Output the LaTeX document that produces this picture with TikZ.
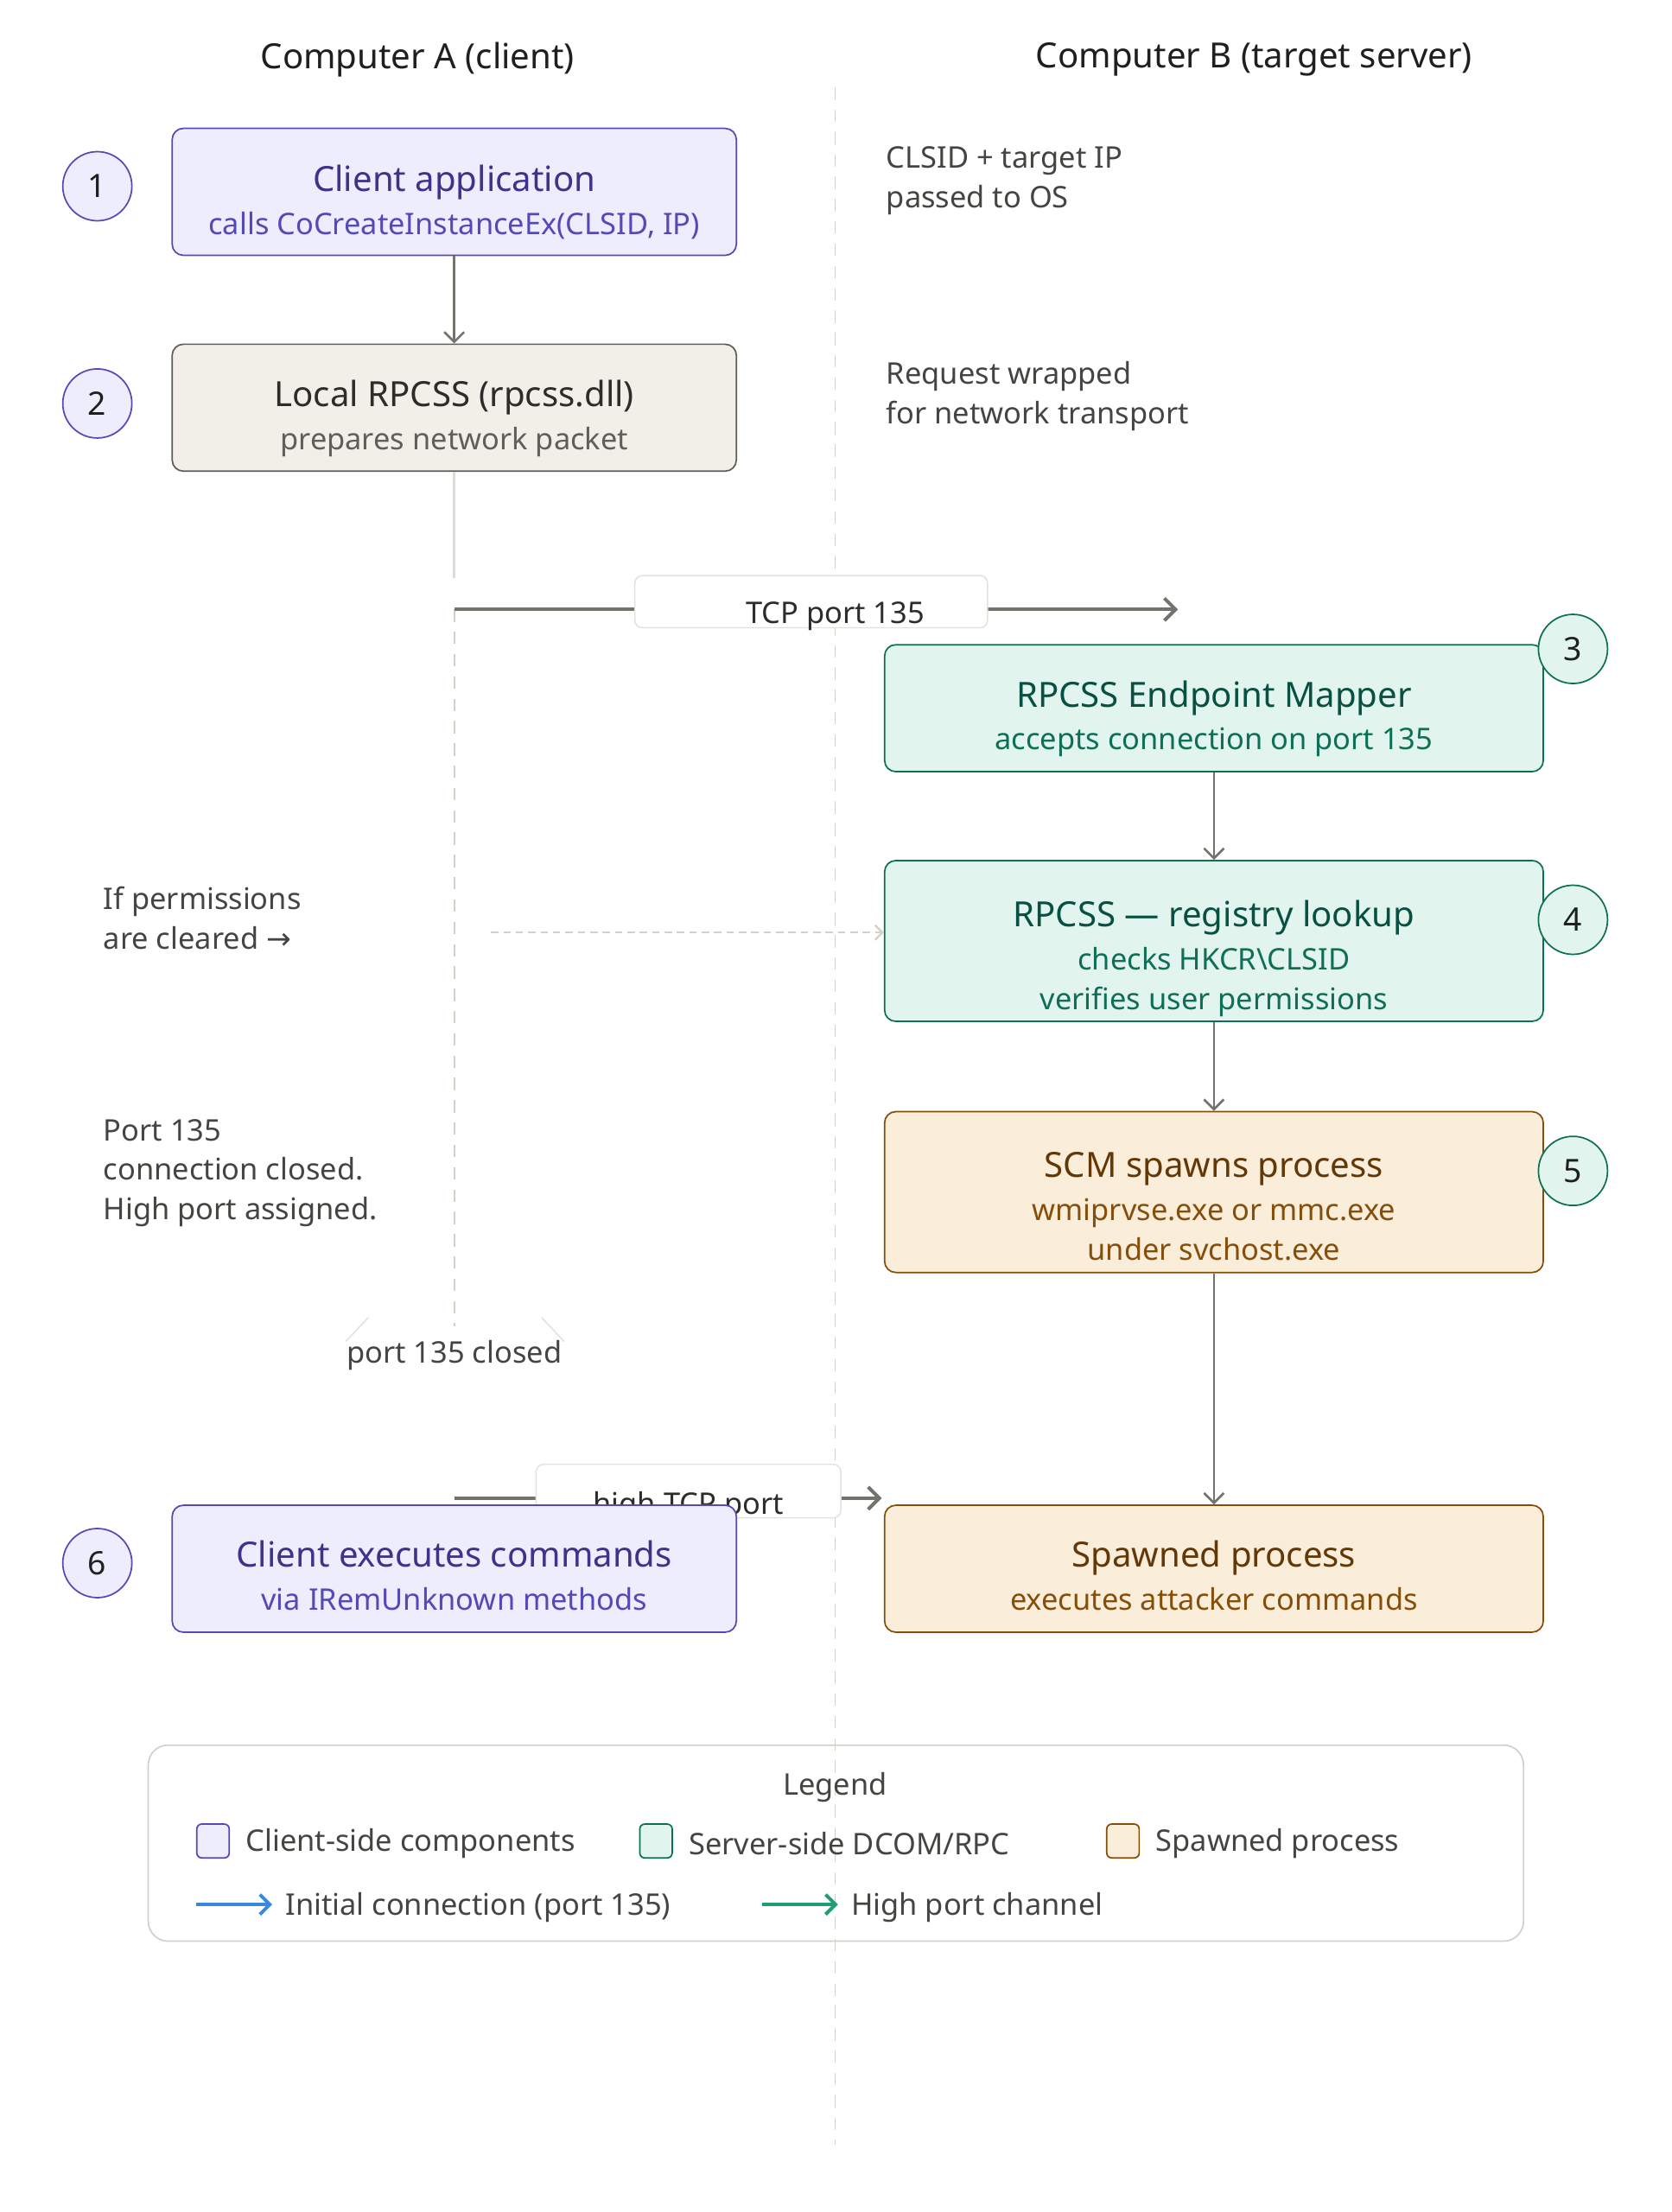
\documentclass[tikz,border=0pt]{standalone}
\usepackage{fontspec}
\setmainfont{Noto Sans}
\newfontfamily\symfont{DejaVu Sans}
\usetikzlibrary{positioning,arrows.meta}
\definecolor{Ink}{HTML}{1F1F1D}
\definecolor{Stone}{HTML}{444441}
\definecolor{Lav}{HTML}{EEEDFE}
\definecolor{Indigo}{HTML}{534AB7}
\definecolor{IndigoDark}{HTML}{3C3489}
\definecolor{Sand}{HTML}{F1EFE8}
\definecolor{SandLine}{HTML}{5F5E5A}
\definecolor{SandDark}{HTML}{2C2C2A}
\definecolor{Mint}{HTML}{E1F5EE}
\definecolor{Teal}{HTML}{0F6E56}
\definecolor{TealDark}{HTML}{085041}
\definecolor{Peach}{HTML}{FAEEDA}
\definecolor{Amber}{HTML}{854F0B}
\definecolor{AmberDark}{HTML}{633806}
\definecolor{Flow}{HTML}{73726C}
\definecolor{Guide}{HTML}{D3D1C7}
\definecolor{TagLine}{HTML}{E2E1DC}
\definecolor{LegBlue}{HTML}{378ADD}
\definecolor{LegGreen}{HTML}{1D9E75}
\newcommand{\boxhead}[2]{{\fontsize{14}{16}\selectfont\color{#1}#2}\\[1.4pt]}

\begin{document}
\begin{tikzpicture}[x=0.02cm,y=-0.02cm,
  every node/.style={font=\fontsize{12}{16}\selectfont,inner sep=0pt},
  box/.style={rounded corners=4.5pt,line width=0.6pt,
    minimum width=8cm,minimum height=1.8cm},
  client/.style={box,fill=Lav,draw=Indigo},
  local/.style={box,fill=Sand,draw=SandLine},
  server/.style={box,fill=Mint,draw=Teal,minimum width=9.34cm},
  spawn/.style={box,fill=Peach,draw=Amber,minimum width=9.34cm},
  boxtext/.style={align=center},
  badgeA/.style={circle,minimum size=0.98cm,fill=Lav,draw=Indigo,line width=0.6pt,
    text=Ink,font=\fontsize{13}{16}\selectfont},
  badgeB/.style={badgeA,fill=Mint,draw=Teal},
  flow/.style={draw=Flow,line width=0.9pt,-{Straight Barb[length=4pt,width=8pt]}},
  wire/.style={draw=Flow,line width=1.4pt,-{Straight Barb[length=4.5pt,width=9pt]}},
  guide/.style={draw=Guide,line width=0.6pt,dash pattern=on 5pt off 4pt},
  note/.style={anchor=west,align=left,text=Stone},
  tag/.style={draw=TagLine,fill=white,rounded corners=3pt,line width=0.5pt},
  swatch/.style={rounded corners=2pt,line width=0.6pt,minimum width=0.46cm,minimum height=0.48cm}]
  \useasboundingbox (0,0) rectangle (1185,1568);
  % lanes
  \node[text=Ink,font=\fontsize{14}{16}\selectfont] (laneA) at (296,42) {Computer A (client)};
  \node[text=Ink,font=\fontsize{14}{16}\selectfont] (laneB) at (889,42) {Computer B (target server)};
  \coordinate (midtop) at (592,62);
  \coordinate (midbot) at (592,1520);
  \draw[guide] (midtop) -- (midbot);

  % legend
  \node[draw=Guide,rounded corners=8pt,line width=0.6pt,minimum width=19.5cm,
    minimum height=2.78cm] (legend) at (592.5,1306.5) {};
  \node[text=Stone] (legtitle) at (592,1267) {Legend};
  \node[swatch,fill=Lav,draw=Indigo] (swA) at (151,1305) {};
  \node[swatch,fill=Mint,draw=Teal] (swB) at (465,1305) {};
  \node[swatch,fill=Peach,draw=Amber] (swC) at (796,1305) {};
  \node[note] (legA) at (174,1307) {Client-side components};
  \node[note] (legB) at (488,1307) {Server-side DCOM/RPC};
  \node[note] (legC) at (819,1307) {Spawned process};
  \coordinate (blueA) at (139,1350);
  \coordinate (blueB) at (193,1350);
  \coordinate (greenA) at (540,1350);
  \coordinate (greenB) at (594,1350);
  \draw[draw=LegBlue,line width=1.4pt,-{Straight Barb[length=4pt,width=8pt]}] (blueA) -- (blueB);
  \draw[draw=LegGreen,line width=1.4pt,-{Straight Barb[length=4pt,width=8pt]}] (greenA) -- (greenB);
  \node[note] (legD) at (202,1352) {Initial connection (port 135)};
  \node[note] (legE) at (603,1352) {High port channel};

  % client lane
  \node[client] (app) at (322,136) {};
  \node[boxtext,text=Indigo] (appT) at (322,143.5)
    {\boxhead{IndigoDark}{Client application}calls CoCreateInstanceEx(CLSID, IP)};
  \node[local] (rpcl) at (322,289) {};
  \node[boxtext,text=SandLine] (rpclT) at (322,296.5)
    {\boxhead{SandDark}{Local RPCSS (rpcss.dll)}prepares network packet};
  \node[badgeA] (n1) at (69,132) {1};
  \node[badgeA] (n2) at (69,286) {2};
  \draw[flow] (app) -- (rpcl);
  \coordinate (stem) at (322,410);
  \coordinate (tcpA) at (322,432);
  \coordinate (tcpB) at (835,432);
  \coordinate (lifeend) at (322,940);
  \draw[draw=Guide!80!black!40,line width=0.9pt] (rpcl) -- (stem);
  \draw[guide] (tcpA) -- (lifeend);
  \draw[wire] (tcpA) -- (tcpB);
  \node[tag,minimum width=5cm,minimum height=0.74cm] (tcptag) at (575,426.5) {};
  \node[text=SandDark] (tcplbl) at (592,437) {TCP port 135};

  % server lane
  \node[server] (epm) at (860.5,502) {};
  \node[boxtext,text=Teal] (epmT) at (860.5,509.5)
    {\boxhead{TealDark}{RPCSS Endpoint Mapper}accepts connection on port 135};
  \node[server,minimum height=2.28cm] (lookup) at (860.5,667) {};
  \node[boxtext,text=Teal] (lookupT) at (860.5,679.5)
    {\boxhead{TealDark}{RPCSS --- registry lookup}checks HKCR\textbackslash CLSID\\verifies user permissions};
  \node[spawn,minimum height=2.28cm] (scm) at (860.5,845) {};
  \node[boxtext,text=Amber] (scmT) at (860.5,855)
    {\boxhead{AmberDark}{SCM spawns process}wmiprvse.exe or mmc.exe\\under svchost.exe};
  \node[badgeB] (n3) at (1115,460) {3};
  \node[badgeB] (n4) at (1115,652) {4};
  \node[badgeB] (n5) at (1115,830) {5};
  \draw[flow] (epm) -- (lookup);
  \draw[flow] (lookup) -- (scm);

  % notes
  \node[note] (noteA) at (628,128) {CLSID + target IP\\passed to OS};
  \node[note] (noteB) at (628,281) {Request wrapped\\for network transport};
  \node[note] (noteC) at (73,651) {If permissions\\are cleared {\symfont →}};
  \node[note] (noteD) at (73,831.5) {Port 135\\connection closed.\\High port assigned.};
  \coordinate (perm) at (348,661);
  \draw[draw=Guide,line width=0.8pt,dash pattern=on 3pt off 2pt,
    -{Straight Barb[length=3pt,width=6pt]}] (perm) -- (perm -| lookup.west);

  % port 135 closed
  \coordinate (tlA) at (261,934);
  \coordinate (tlB) at (245,951);
  \coordinate (trA) at (384,934);
  \coordinate (trB) at (400,951);
  \draw[draw=Guide!70,line width=0.5pt] (tlA) -- (tlB) (trA) -- (trB);
  \node[text=Stone] (closed) at (322,961) {port 135 closed};

  % high port
  \node[spawn] (proc) at (860.5,1112) {};
  \node[boxtext,text=Amber] (procT) at (860.5,1117)
    {\boxhead{AmberDark}{Spawned process}executes attacker commands};
  \draw[flow] (scm) -- (proc);
  \coordinate (hiA) at (322,1062);
  \coordinate (hiB) at (625,1062);
  \draw[wire] (hiA) -- (hiB);
  \node[tag,minimum width=4.32cm,minimum height=0.76cm] (hitag) at (488,1057) {};
  \node[text=SandDark] (hilbl) at (488,1068) {high TCP port};
  \node[client] (exec) at (322,1112) {};
  \node[boxtext,text=Indigo] (execT) at (322,1117)
    {\boxhead{IndigoDark}{Client executes commands}via IRemUnknown methods};
  \node[badgeA] (n6) at (69,1108) {6};
\end{tikzpicture}
\end{document}
